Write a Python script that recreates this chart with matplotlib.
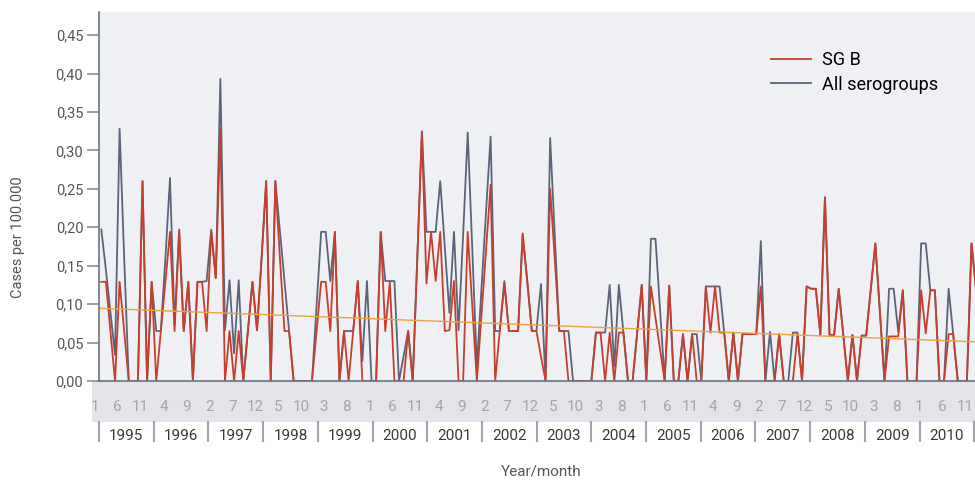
import numpy as np
import matplotlib
matplotlib.use("Agg")
import matplotlib.pyplot as plt
from matplotlib.patches import Rectangle
from matplotlib.transforms import blended_transform_factory

plt.rcParams['font.family'] = ['Roboto', 'DejaVu Sans']

# monthly rates, Jan 1995 .. Dec 2010
years = list(range(1995, 2011))

sg_b = [
    0.129, 0.129, 0.065, 0, 0.129, 0.065, 0, 0, 0, 0.26, 0, 0.129,          # 1995
    0, 0.065, 0.129, 0.194, 0.065, 0.197, 0.065, 0.129, 0, 0.129, 0.129, 0.065,  # 1996
    0.194, 0.134, 0.327, 0, 0.065, 0, 0.065, 0, 0.065, 0.129, 0.066, 0.16,  # 1997
    0.26, 0, 0.26, 0.16, 0.065, 0.065, 0, 0, 0, 0, 0, 0.065,                # 1998
    0.129, 0.129, 0.065, 0.194, 0, 0.065, 0, 0.065, 0.13, 0, 0, 0,          # 1999
    0, 0.194, 0.065, 0.129, 0, 0, 0, 0.065, 0, 0.16, 0.323, 0.127,          # 2000
    0.194, 0.13, 0.194, 0.065, 0.066, 0.13, 0, 0, 0.194, 0.097, 0, 0.085,   # 2001
    0.17, 0.255, 0, 0.065, 0.127, 0.065, 0.065, 0.065, 0.192, 0.13, 0.065, 0.065,  # 2002
    0.032, 0, 0.25, 0.16, 0.065, 0.065, 0, 0, 0, 0, 0, 0,                   # 2003
    0.063, 0.063, 0, 0.063, 0, 0.063, 0.063, 0, 0, 0.062, 0.125, 0,         # 2004
    0.123, 0.082, 0.041, 0, 0.124, 0, 0, 0.061, 0, 0.061, 0, 0,             # 2005
    0.123, 0.063, 0.123, 0.063, 0.063, 0, 0.063, 0, 0.061, 0.061, 0.061, 0.061,  # 2006
    0.123, 0, 0, 0, 0.061, 0, 0, 0, 0.061, 0, 0.123, 0.12,                  # 2007
    0.12, 0.06, 0.239, 0.06, 0.06, 0.12, 0.06, 0, 0.06, 0, 0.059, 0.059,    # 2008
    0.119, 0.179, 0.09, 0, 0.058, 0.058, 0.058, 0.118, 0, 0, 0, 0.118,      # 2009
    0.062, 0.118, 0.118, 0, 0, 0.061, 0.061, 0, 0, 0, 0.179, 0.118,         # 2010
]

all_sero = [
    0.197, 0.145, 0.09, 0.034, 0.328, 0.16, 0, 0, 0, 0.26, 0, 0.129,
    0.065, 0.065, 0.16, 0.264, 0.073, 0.194, 0.065, 0.129, 0, 0.129, 0.129, 0.13,
    0.197, 0.134, 0.393, 0.066, 0.131, 0.036, 0.131, 0, 0.065, 0.129, 0.066, 0.16,
    0.26, 0, 0.26, 0.195, 0.13, 0.065, 0, 0, 0, 0, 0, 0.097,
    0.194, 0.194, 0.13, 0.194, 0, 0.065, 0.065, 0.065, 0.13, 0.026, 0.13, 0,
    0, 0.194, 0.13, 0.13, 0.13, 0, 0.032, 0.065, 0, 0.16, 0.325, 0.194,
    0.194, 0.194, 0.26, 0.175, 0.089, 0.194, 0.066, 0.19, 0.323, 0.17, 0.019, 0.12,
    0.22, 0.318, 0.065, 0.065, 0.13, 0.065, 0.065, 0.065, 0.19, 0.13, 0.065, 0.065,
    0.126, 0, 0.316, 0.19, 0.065, 0.065, 0.065, 0, 0, 0, 0, 0,
    0.063, 0.063, 0.063, 0.125, 0.019, 0.125, 0.063, 0, 0, 0.062, 0.125, 0,
    0.185, 0.185, 0.093, 0, 0.124, 0, 0, 0.061, 0, 0.061, 0.061, 0,
    0.123, 0.123, 0.123, 0.123, 0.063, 0, 0.063, 0, 0.061, 0.061, 0.061, 0.061,
    0.182, 0, 0.064, 0, 0.061, 0, 0, 0.063, 0.063, 0, 0.123, 0.12,
    0.12, 0.06, 0.239, 0.06, 0.06, 0.12, 0.06, 0, 0.06, 0, 0.059, 0.059,
    0.119, 0.179, 0.09, 0, 0.12, 0.12, 0.064, 0.118, 0, 0, 0, 0.179,
    0.179, 0.118, 0.118, 0, 0, 0.12, 0.061, 0, 0, 0, 0.179, 0.118,
]

trend = [0.0946, 0.051]   # start / end of the linear trend

y_ticks = [0, 0.05, 0.10, 0.15, 0.20, 0.25, 0.30, 0.35, 0.40, 0.45]
y_tick_labels = ['0,00', '0,05', '0,10', '0,15', '0,20', '0,25', '0,30', '0,35', '0,40', '0,45']

RED = '#c83e2e'
GREY = '#5b6478'

W, H = 975, 480
fig = plt.figure(figsize=(W / 100, H / 100), dpi=100)
ax = fig.add_axes([99 / W, 1 - 381 / H, 876 / W, 369 / H])
ax.set_facecolor('#eef0f4')

months = np.arange(len(sg_b))
x_left, x_right = -0.5, 190.76
l_all, = ax.plot(months, all_sero, color=GREY, lw=1.3, label='All serogroups')
l_b, = ax.plot(months, sg_b, color=RED, lw=1.3, label='SG B')
ax.plot([x_left, x_right], trend, color='#eca43a', lw=1.0)

ax.set_xlim(x_left, x_right)
ax.set_ylim(0, 0.48)
ax.set_xticks([])
ax.set_yticks(y_ticks)
ax.set_yticklabels(y_tick_labels)
ax.tick_params(axis='y', length=8.4, width=1.2, color='#8b90a0',
               labelsize=10.5, labelcolor='#555555', pad=3)
for s in ['top', 'right']:
    ax.spines[s].set_visible(False)
for s in ['left', 'bottom']:
    ax.spines[s].set_color('#6b7282')
    ax.spines[s].set_linewidth(1.2)

# grey band under the axis with month numbers
ax.add_patch(Rectangle((-7 / 876, -41 / 369), 883 / 876, 41 / 369, transform=ax.transAxes,
                       facecolor='#e3e4ea', edgecolor='none', clip_on=False, zorder=0))
trans = blended_transform_factory(ax.transData, ax.transAxes)
for i in range(0, len(sg_b), 5):
    ax.text(i - 1.4, -26 / 369, str(i % 12 + 1), transform=trans, ha='center', va='center',
            fontsize=11, color='#a4a5ad')

# year separators and labels
year_w = 11.943
for k, yr in enumerate(years + [None]):
    p = x_left + year_w * k
    ax.plot([p, p], [-41 / 369, -60 / 369], transform=trans, color='#a0a5b5', lw=1.5,
            clip_on=False)
    if yr is not None:
        ax.text(p + year_w / 2, -55 / 369, str(yr), transform=trans, ha='center',
                va='center', fontsize=11, color='#3a3a3a')

fig.text(18 / W, 1 - 237 / H, 'Cases per 100.000', rotation=90, ha='center', va='center',
         fontsize=10.5, color='#555555')
fig.text(541 / W, 1 - 472 / H, 'Year/month', ha='center', va='center',
         fontsize=11, color='#555555')

ax.legend([l_b, l_all], ['SG B', 'All serogroups'], loc='upper left',
          bbox_to_anchor=(771 / W, 1 - 51 / H), bbox_transform=fig.transFigure,
          frameon=False, fontsize=13, handlelength=2.2, handletextpad=0.65,
          labelspacing=0.36, borderpad=0, borderaxespad=0)

fig.savefig('out.png', dpi=100)
